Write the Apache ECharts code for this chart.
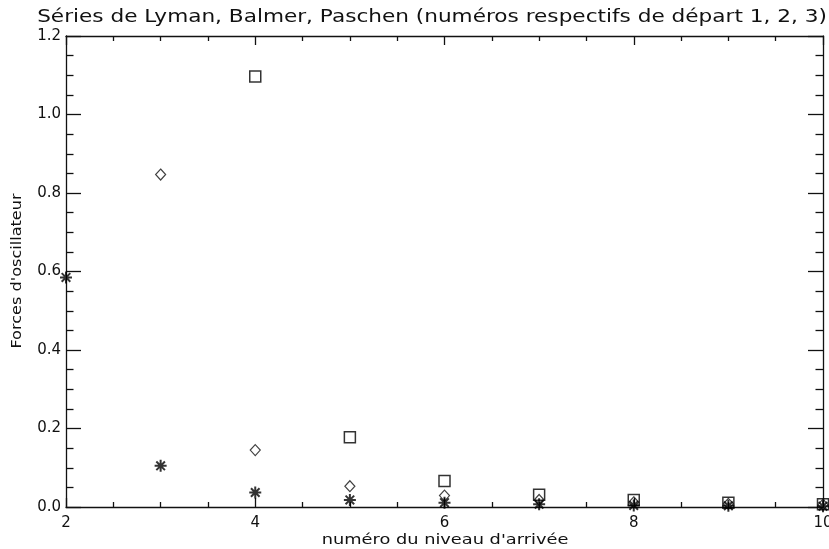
<!DOCTYPE html>
<html>
<head>
<meta charset="utf-8">
<script src="https://cdn.jsdelivr.net/npm/echarts@6/dist/echarts.min.js"></script>
<style>
  html, body { margin: 0; padding: 0; background: #fff; }
  #chart { width: 829px; height: 549px; }
</style>
</head>
<body>
<div id="chart"></div>
<script>
// Oscillator strengths by arrival level, for departure levels 1, 2 and 3
const lymanLevels   = [2, 3, 4, 5, 6, 7, 8, 9, 10];
const lymanF        = [0.585, 0.105, 0.037, 0.018, 0.011, 0.007, 0.004, 0.003, 0.002];
const balmerLevels  = [3, 4, 5, 6, 7, 8, 9, 10];
const balmerF       = [0.847, 0.145, 0.053, 0.029, 0.018, 0.012, 0.008, 0.006];
const paschenLevels = [4, 5, 6, 7, 8, 9, 10];
const paschenF      = [1.097, 0.178, 0.066, 0.031, 0.018, 0.011, 0.007];

const xTicks = [2, 4, 6, 8, 10];
const yTicks = [0.0, 0.2, 0.4, 0.6, 0.8, 1.0, 1.2];

const titleText = "Séries de Lyman, Balmer, Paschen (numéros respectifs de départ 1, 2, 3)";
const xName = "numéro du niveau d'arrivée";
const yName = "Forces d'oscillateur";

const pairs = (xs, ys) => xs.map((x, i) => [x, ys[i]]);

const FONT = 'DejaVu Sans';
const INK = '#111';
const asterisk = 'path://M0,-6L0,6M-6,0L6,0M-4.3,-4.3L4.3,4.3M-4.3,4.3L4.3,-4.3';

const axisLine = { show: true, onZero: false, lineStyle: { color: INK, width: 1.3 } };
const tickStyle = { color: INK, width: 1.3 };

// stretched text, wide like a plotter's stroke font
const wideText = (text, x, y, size, sx, rot) => ({
  type: 'text', x, y, rotation: rot || 0, scaleX: sx, silent: true,
  style: { text, fontFamily: FONT, fontSize: size, fill: INK,
           align: 'center', verticalAlign: 'middle' }
});

const chart = echarts.init(document.getElementById('chart'), null, { renderer: 'canvas' });
chart.setOption({
  animation: false,
  backgroundColor: '#fff',
  graphic: [
    wideText(titleText, 432, 17, 18, 1.2),
    wideText(xName, 445, 540, 14, 1.27),
    wideText(yName, 17, 271, 14, 1.15, Math.PI / 2)
  ],
  grid: { left: 66, right: 6, top: 36, bottom: 42, containLabel: false, outerBoundsMode: 'none' },
  xAxis: [
    {
      type: 'value', position: 'bottom',
      min: xTicks[0], max: xTicks[xTicks.length - 1], interval: 2,
      axisLine,
      axisTick: { show: true, inside: true, length: 9, lineStyle: tickStyle },
      minorTick: { show: true, splitNumber: 4, length: 5, lineStyle: tickStyle },
      axisLabel: { fontFamily: FONT, fontSize: 15, color: INK, margin: 9,
                   formatter: v => String(v) },
      splitLine: { show: false }
    },
    {
      type: 'value', position: 'top',
      min: xTicks[0], max: xTicks[xTicks.length - 1], interval: 2,
      axisLine,
      axisTick: { show: true, inside: true, length: 9, lineStyle: tickStyle },
      minorTick: { show: true, splitNumber: 4, length: 5, lineStyle: tickStyle },
      axisLabel: { show: false },
      splitLine: { show: false }
    }
  ],
  yAxis: [
    {
      type: 'value', position: 'left',
      min: yTicks[0], max: yTicks[yTicks.length - 1], interval: 0.2,
      axisLine,
      axisTick: { show: true, inside: true, length: 15, lineStyle: tickStyle },
      minorTick: { show: true, splitNumber: 4, length: 7.5, lineStyle: tickStyle },
      axisLabel: { fontFamily: FONT, fontSize: 15, color: INK, margin: 5,
                   formatter: v => v.toFixed(1) },
      splitLine: { show: false }
    },
    {
      type: 'value', position: 'right',
      min: yTicks[0], max: yTicks[yTicks.length - 1], interval: 0.2,
      axisLine,
      axisTick: { show: true, inside: true, length: 15, lineStyle: tickStyle },
      minorTick: { show: true, splitNumber: 4, length: 7.5, lineStyle: tickStyle },
      axisLabel: { show: false },
      splitLine: { show: false }
    }
  ],
  series: [
    {
      name: 'Lyman', type: 'scatter', clip: false, z: 5,
      data: pairs(lymanLevels, lymanF),
      symbol: asterisk, symbolSize: 12,
      itemStyle: { color: 'rgba(0,0,0,0)', borderColor: '#000', borderWidth: 2 }
    },
    {
      name: 'Balmer', type: 'scatter', clip: false, z: 4,
      data: pairs(balmerLevels, balmerF),
      symbol: 'diamond', symbolSize: [10, 11],
      itemStyle: { color: 'rgba(0,0,0,0)', borderColor: INK, borderWidth: 1.2 }
    },
    {
      name: 'Paschen', type: 'scatter', clip: false, z: 3,
      data: pairs(paschenLevels, paschenF),
      symbol: 'rect', symbolSize: 11,
      itemStyle: { color: 'rgba(0,0,0,0)', borderColor: '#000', borderWidth: 1.5 }
    }
  ]
});
</script>
</body>
</html>
